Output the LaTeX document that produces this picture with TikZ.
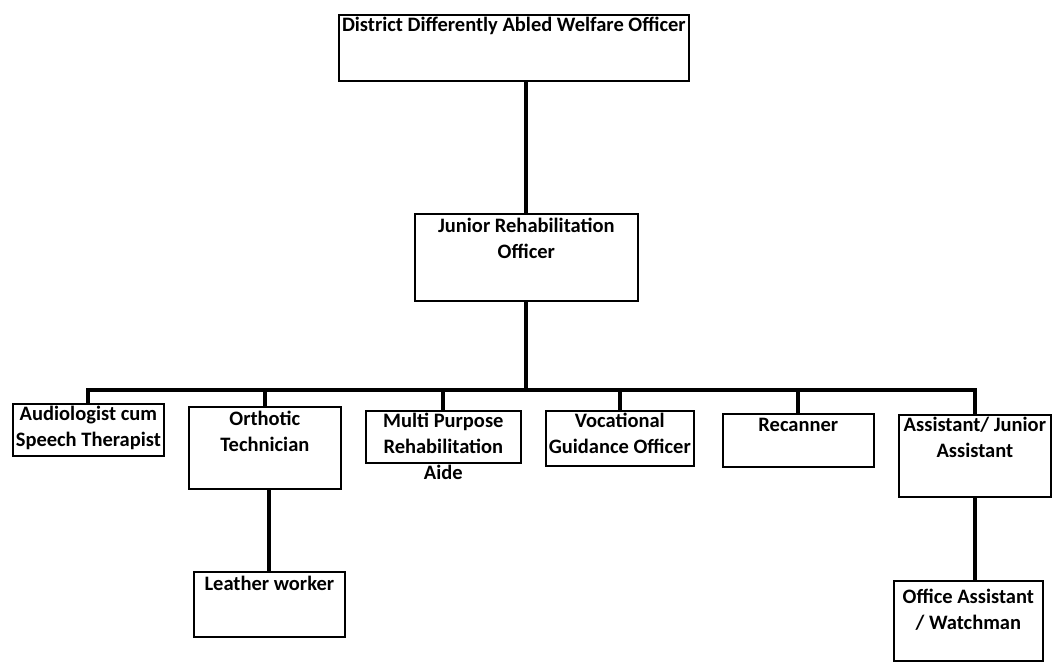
\documentclass[tikz,border=0pt]{standalone}
\usepackage{fontspec}
\setmainfont{Carlito}
\usetikzlibrary{positioning}
\tikzset{
  post/.style={draw, line width=1.7pt, inner sep=0pt, anchor=north west},
  title/.style={align=center, inner sep=0pt, font=\bfseries\fontsize{20.5}{26}\selectfont},
  link/.style={line width=3.8pt},
}
\begin{document}
\begin{tikzpicture}[x=1pt, y=-1pt]
  \useasboundingbox (0,0) rectangle (1061,665);
  % nodes %
  \node[post, minimum width=350, minimum height=66] (ddawo) at (338,14) {};
  \node[post, minimum width=223, minimum height=87] (jro) at (414,213) {};
  \node[post, minimum width=151, minimum height=52] (aud) at (12,403) {};
  \node[post, minimum width=152, minimum height=82] (orth) at (188,406) {};
  \node[post, minimum width=155, minimum height=52] (mpra) at (365,410) {};
  \node[post, minimum width=148, minimum height=55] (vgo) at (545,410) {};
  \node[post, minimum width=151, minimum height=53] (rec) at (722,413) {};
  \node[post, minimum width=152, minimum height=82] (asst) at (898,414) {};
  \node[post, minimum width=151, minimum height=65] (lw) at (193,571) {};
  \node[post, minimum width=149, minimum height=80] (oa) at (893,580) {};

  % texts %
  \node[title, below=3pt of ddawo.north] (ddawoT) {District Differently Abled Welfare Officer};
  \node[title, below=5pt of jro.north] (jroT) {Junior Rehabilitation\\Officer};
  \node[title, below=3pt of aud.north] (audT) {Audiologist cum\\Speech Therapist};
  \node[title, below=5pt of orth.north] (orthT) {Orthotic\\Technician};
  \node[title, below=3pt of mpra.north] (mpraT) {Multi Purpose\\Rehabilitation\\Aide};
  \node[title, below=3pt of vgo.north] (vgoT) {Vocational\\Guidance Officer};
  \node[title, below=5pt of rec.north] (recT) {Recanner};
  \node[title, below=3pt of asst.north] (asstT) {Assistant/ Junior\\Assistant};
  \node[title, below=5pt of lw.north] (lwT) {Leather worker};
  \node[title, below=9pt of oa.north] (oaT) {Office Assistant\\/ Watchman};

  % edges %
  \coordinate (bar) at (525,390);
  \draw[link] (jro.north |- ddawo.south) -- (jro.north);
  \draw[link] (jro.south) -- (jro.south |- bar);
  \draw[link] (aud.north) |- (asst.north |- bar) -- (asst.north);
  \foreach \post in {orth,mpra,vgo,rec}
    \draw[link] (\post.north |- bar) -- (\post.north);
  \draw[link] (lw.north |- orth.south) -- (lw.north);
  \draw[link] (asst.south) -- (asst.south |- oa.north);
\end{tikzpicture}
\end{document}
